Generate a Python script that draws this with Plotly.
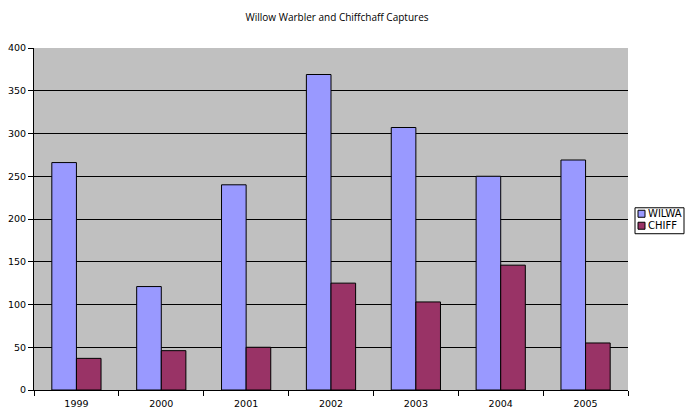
import plotly.graph_objects as go

years = ["1999", "2000", "2001", "2002", "2003", "2004", "2005"]
wilwa = [266, 121, 240, 369, 307, 250, 269]
chiff = [37, 46, 50, 125, 103, 146, 55]
series_names = ["WILWA", "CHIFF"]
series_colors = ["#9999ff", "#993366"]
title_text = "Willow Warbler and Chiffchaff Captures"

W, H = 686, 410
# plot area in page pixels: x 34..628, y 48..390.5
L, T, R, B = 34, 48, W - 628, H - 390.5
pw, ph = W - L - R, H - T - B

def px_x(x):  # page px -> paper
    return (x - L) / pw

def px_y(y):
    return (H - B - y) / ph

fig = go.Figure()
for name, vals, col in zip(series_names, [wilwa, chiff], series_colors):
    fig.add_trace(go.Bar(
        x=years, y=vals, name=name,
        marker=dict(color=col, line=dict(color="black", width=1)),
        showlegend=False,
    ))

# compact Excel-style legend
shapes = [dict(type="rect", xref="paper", yref="paper",
               x0=px_x(635), x1=px_x(684), y0=px_y(234), y1=px_y(208),
               line=dict(color="black", width=1), fillcolor="white", layer="above")]
annotations = []
for i, (name, col) in enumerate(zip(series_names, series_colors)):
    yc = 214 + i * 12
    shapes.append(dict(type="rect", xref="paper", yref="paper",
                       x0=px_x(638), x1=px_x(645), y0=px_y(yc + 3.5), y1=px_y(yc - 3.5),
                       line=dict(color="black", width=1), fillcolor=col, layer="above"))
    annotations.append(dict(text=name, xref="paper", yref="paper",
                            x=px_x(646), y=px_y(yc), xanchor="left", yanchor="middle",
                            showarrow=False, font=dict(family="DejaVu Sans", size=10, color="black")))

fig.update_layout(
    width=W, height=H,
    margin=dict(l=L, r=R, t=T, b=B, pad=0),
    paper_bgcolor="white",
    plot_bgcolor="#c0c0c0",
    barmode="group",
    bargap=0.42,
    bargroupgap=0,
    title=dict(text=title_text, x=337 / W, xanchor="center", y=1 - 17 / H,
               yanchor="middle", yref="container",
               font=dict(family="Open Sans", size=10, color="black")),
    shapes=shapes,
    annotations=annotations,
    font=dict(family="DejaVu Sans", size=9.5, color="black"),
)
fig.update_xaxes(
    type="category", showline=True, linecolor="black", linewidth=1,
    ticks="outside", ticklen=5, tickcolor="black", tickson="boundaries",
    showgrid=False, mirror=False, automargin=False, ticklabelstandoff=5,
)
fig.update_yaxes(
    range=[0, 400], dtick=50, showline=True, linecolor="black", linewidth=1,
    ticks="outside", ticklen=5, tickcolor="black",
    showgrid=True, gridcolor="black", gridwidth=1, zeroline=False, automargin=False,
)

fig.write_html("out.html", config={"displayModeBar": False},
               post_script="document.body.style.margin='0';")
